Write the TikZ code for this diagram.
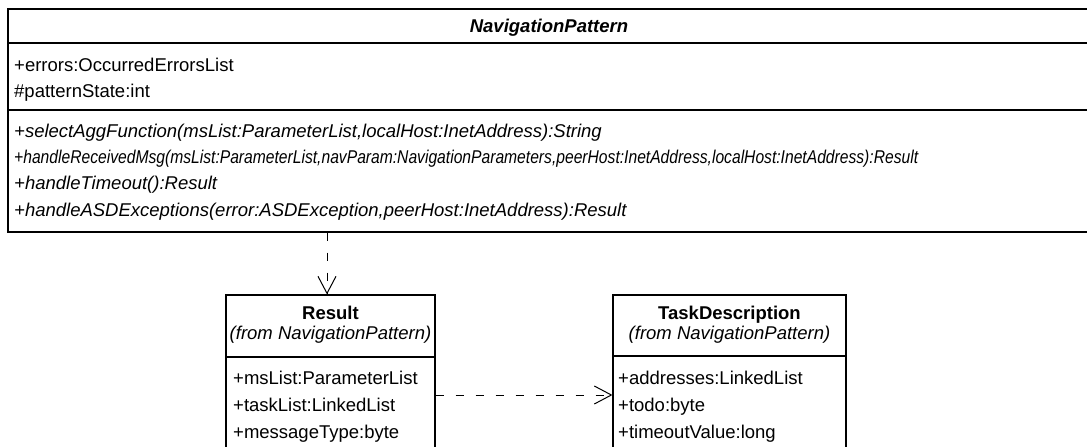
\documentclass[tikz,border=0pt]{standalone}
\usepackage{fontspec}
\usepackage{graphicx}
\setmainfont{Liberation Sans}
\usetikzlibrary{arrows.meta}
\newcommand{\umlsize}{\fontsize{18.5}{22}\selectfont}
\begin{document}
\begin{tikzpicture}[x=1pt,y=1pt,
  box/.style={draw=black,line width=1.2pt,fill=white,inner sep=0pt,minimum height=175pt},
  sep/.style={line width=1.2pt},
  txt/.style={anchor=base west,inner sep=0pt,font=\umlsize},
  optxt/.style={anchor=base west,inner sep=0pt,font=\umlsize\itshape},
  ctxt/.style={anchor=base,inner sep=0pt,font=\umlsize},
  dep/.style={line width=1pt,dash pattern=on 8pt off 12pt,-{Straight Barb[length=17pt,width=18pt,line width=1pt]}}]
\useasboundingbox (0,0) rectangle (1087,-447);
\clip (0,0) rectangle (1087,-447);

% abstract class NavigationPattern
\node[box,minimum width=1087pt,minimum height=223pt] (np) at (551.5,-120.5) {};
\draw[sep] (np.west |- 0,-43) -- (np.east |- 0,-43);
\draw[sep] (np.west |- 0,-110) -- (np.east |- 0,-110);
\node[ctxt,font=\umlsize\bfseries\itshape] (npt) at (549,-32) {NavigationPattern};
\node[txt] (na1) at (14,-71) {+errors:OccurredErrorsList};
\node[txt] (na2) at (14,-97) {\#patternState:int};
\node[optxt] (nm1) at (14,-137) {+selectAggFunction(msList:ParameterList,localHost:InetAddress):String};
\node[optxt] (nm2) at (14,-163) {\resizebox{904pt}{\height}{+handleReceivedMsg(msList:ParameterList,navParam:NavigationParameters,peerHost:InetAddress,localHost:InetAddress):Result}};
\node[optxt] (nm3) at (14,-189) {+handleTimeout():Result};
\node[optxt] (nm4) at (14,-216) {+handleASDExceptions(error:ASDException,peerHost:InetAddress):Result};

% class Result
\node[box,minimum width=209pt] (res) at (330.5,-382.5) {};
\draw[sep] (res.west |- 0,-357) -- (res.east |- 0,-357);
\node[ctxt,font=\umlsize\bfseries] (rt) at (330.5,-319) {Result};
\node[ctxt,font=\umlsize\itshape] (rf) at (330.5,-339) {(from NavigationPattern)};
\node[txt] (ra1) at (233,-384) {+msList:ParameterList};
\node[txt] (ra2) at (233,-411) {+taskList:LinkedList};
\node[txt] (ra3) at (233,-438) {+messageType:byte};

% class TaskDescription
\node[box,minimum width=233pt] (task) at (729.5,-382.5) {};
\draw[sep] (task.west |- 0,-356) -- (task.east |- 0,-356);
\node[ctxt,font=\umlsize\bfseries] (tt) at (729.5,-319) {TaskDescription};
\node[ctxt,font=\umlsize\itshape] (tf) at (729.5,-339) {(from NavigationPattern)};
\node[txt] (ta1) at (618,-384) {+addresses:LinkedList};
\node[txt] (ta2) at (618,-411) {+todo:byte};
\node[txt] (ta3) at (618,-438) {+timeoutValue:long};

% dependencies
\coordinate (vx) at (327,0);
\coordinate (hy) at (0,-395);
\draw[dep] (np.south -| vx) -- (res.north -| vx);
\draw[dep] (res.east |- hy) -- (task.west |- hy);
\end{tikzpicture}
\end{document}
